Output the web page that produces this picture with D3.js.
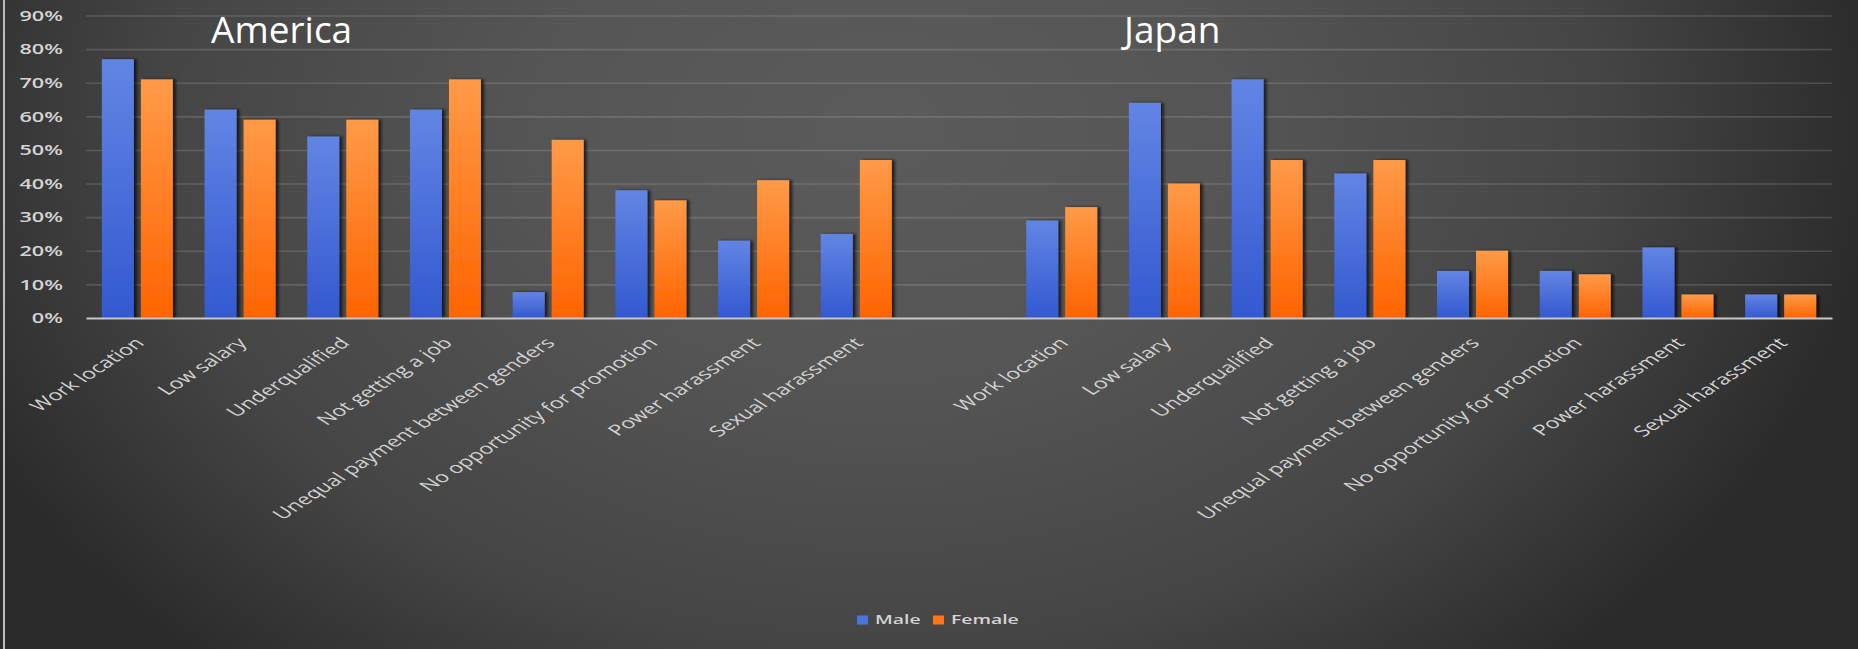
<!DOCTYPE html>
<html>
<head>
<meta charset="utf-8">
<script src="https://cdn.jsdelivr.net/npm/d3@7/dist/d3.min.js"></script>
<style>
  html, body { margin: 0; padding: 0; background: #2c2c2c; }
  svg { display: block; }
  text { font-family: "Open Sans", "Noto Sans", sans-serif; }
</style>
</head>
<body>
<svg id="chart" width="1858" height="649"></svg>
<script>
// ---- data ----
const regions = ["America", "Japan"];
const reasons = [
  "Work location", "Low salary", "Underqualified", "Not getting a job",
  "Unequal payment between genders", "No opportunity for promotion",
  "Power harassment", "Sexual harassment"
];
const seriesNames = ["Male", "Female"];
const americaMale   = [0.77, 0.62, 0.54, 0.62, 0.077, 0.38, 0.23, 0.25];
const americaFemale = [0.71, 0.59, 0.59, 0.71, 0.53, 0.35, 0.41, 0.47];
const japanMale     = [0.29, 0.64, 0.71, 0.43, 0.14, 0.14, 0.21, 0.07];
const japanFemale   = [0.33, 0.40, 0.47, 0.47, 0.20, 0.13, 0.07, 0.07];
const yTicks = [0, 0.1, 0.2, 0.3, 0.4, 0.5, 0.6, 0.7, 0.8, 0.9];

// ---- build slot table: America reasons, one empty slot, Japan reasons ----
const valuesByRegion = {
  America: { Male: americaMale, Female: americaFemale },
  Japan:   { Male: japanMale,   Female: japanFemale }
};
const slots = [];
regions.forEach((r, ri) => {
  reasons.forEach((reason, i) => slots.push({ key: r + "|" + reason, label: reason, region: r, i }));
  if (ri < regions.length - 1) slots.push({ key: "gap" + ri, label: "", region: null });
});
const bars = [];
slots.filter(s => s.region).forEach(s => {
  seriesNames.forEach(name => bars.push({ slot: s.key, series: name, value: valuesByRegion[s.region][name][s.i] }));
});

// ---- layout ----
const W = 1858, H = 649;
const plotL = 86, plotR = 1832, plotB = 318, plotT = 15.5;
const STRETCH = 1.55;   // chart text is drawn wide

const svg = d3.select("#chart");
const defs = svg.append("defs");

// background
const bg = defs.append("radialGradient").attr("id", "bgGrad")
  .attr("gradientUnits", "userSpaceOnUse")
  .attr("cx", 0).attr("cy", 0).attr("r", 1)
  .attr("gradientTransform", "translate(880,130) scale(1000,720)");
[[0, "#5b5b5b"], [0.35, "#555555"], [0.72, "#454545"], [1, "#2b2b2b"]]
  .forEach(([o, c]) => bg.append("stop").attr("offset", o).attr("stop-color", c));

const barGrad = {
  Male: ["#6285e4", "#3359d0"],
  Female: ["#ff9a48", "#ff6400"]
};
Object.entries(barGrad).forEach(([k, [c0, c1]]) => {
  const g = defs.append("linearGradient").attr("id", "grad" + k)
    .attr("x1", 0).attr("y1", 0).attr("x2", 0).attr("y2", 1);
  g.append("stop").attr("offset", 0).attr("stop-color", c0);
  g.append("stop").attr("offset", 1).attr("stop-color", c1);
});
const shadow = defs.append("filter").attr("id", "barShadow")
  .attr("x", "-20%").attr("y", "-5%").attr("width", "150%").attr("height", "110%");
shadow.append("feDropShadow").attr("dx", 3).attr("dy", 0).attr("stdDeviation", 1.6)
  .attr("flood-color", "#000").attr("flood-opacity", 0.65);

svg.append("rect").attr("width", W).attr("height", H).attr("fill", "url(#bgGrad)");
svg.append("line").attr("x1", 4).attr("x2", 4).attr("y1", 0).attr("y2", H)
  .attr("stroke", "#bdbdbd").attr("stroke-width", 2);

// ---- scales ----
const x = d3.scaleBand().domain(slots.map(s => s.key)).range([plotL, plotR]).padding(0);
const x1 = d3.scaleBand().domain(seriesNames).range([-35.5, 35.5]).paddingInner(0.18);
const y = d3.scaleLinear().domain([0, 0.9]).range([plotB, plotT]);
const color = d3.scaleOrdinal().domain(seriesNames).range(["#4a74de", "#ff7418"]);

// gridlines
const grid = svg.append("g").attr("transform", `translate(${plotL},0)`)
  .call(d3.axisLeft(y).tickValues(yTicks.slice(1)).tickSize(-(plotR - plotL)).tickFormat(""));
grid.select(".domain").remove();
grid.selectAll("line").attr("stroke", "#ffffff").attr("stroke-opacity", 0.14).attr("stroke-width", 1.6);

// y axis labels
const yAxis = svg.append("g").attr("transform", `translate(${plotL},0)`)
  .call(d3.axisLeft(y).tickValues(yTicks).tickSize(0).tickFormat(d3.format(".0%")));
yAxis.select(".domain").remove();
yAxis.selectAll("text")
  .attr("x", 0).attr("dy", "0.34em")
  .attr("transform", `translate(-23,0) scale(${STRETCH},1)`)
  .attr("fill", "#d4d4d4").attr("font-size", 14).attr("font-weight", 600)
  .attr("text-anchor", "end");

// bars
const center = k => x(k) + x.bandwidth() / 2;
svg.append("g").selectAll("rect").data(bars).join("rect")
  .attr("x", d => center(d.slot) + x1(d.series))
  .attr("y", d => y(d.value))
  .attr("width", x1.bandwidth())
  .attr("height", d => y(0) - y(d.value))
  .attr("fill", d => `url(#grad${d.series})`)
  .attr("filter", "url(#barShadow)");

// category axis
const labelOf = Object.fromEntries(slots.map(s => [s.key, s.label]));
const xAxis = svg.append("g").attr("transform", `translate(0,${plotB})`)
  .call(d3.axisBottom(x).tickSize(0).tickSizeOuter(0).tickFormat(k => labelOf[k]));
xAxis.select(".domain").attr("stroke", "#c8c8c8").attr("stroke-width", 2);
xAxis.selectAll(".tick text")
  .attr("x", 0).attr("y", 0).attr("dy", 0)
  .attr("transform", `translate(8,26) scale(${STRETCH},1) rotate(-45)`)
  .attr("text-anchor", "end")
  .attr("fill", "#d2d2d2").attr("font-size", 15);

// region titles
const titleX = { America: 211, Japan: 1124 };
svg.append("g").selectAll("text").data(regions).join("text")
  .attr("x", d => titleX[d]).attr("y", 43)
  .attr("fill", "#ffffff").attr("font-size", 37)
  .text(d => d);

// legend
const legend = svg.append("g").attr("transform", "translate(857,620)");
const legendX = { Male: 0, Female: 76 };
const item = legend.selectAll("g").data(seriesNames).join("g")
  .attr("transform", d => `translate(${legendX[d]},0)`);
item.append("rect").attr("x", 0).attr("y", -4.5).attr("width", 11).attr("height", 9)
  .attr("fill", d => color(d));
item.append("text").attr("x", 0).attr("dy", "0.35em")
  .attr("transform", `translate(18,0) scale(${STRETCH},1)`)
  .attr("fill", "#d4d4d4").attr("font-size", 12.5).attr("font-weight", 600)
  .text(d => d);
</script>
</body>
</html>
